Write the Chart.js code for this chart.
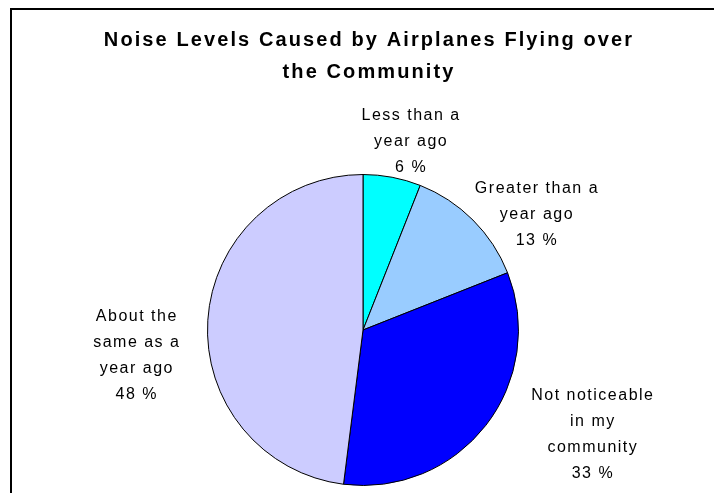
<!DOCTYPE html>
<html>
<head>
<meta charset="utf-8">
<script src="https://cdn.jsdelivr.net/npm/chart.js@4/dist/chart.umd.min.js"></script>
<style>
  html, body { margin: 0; padding: 0; background: #fff; }
  #wrap { position: relative; width: 714px; height: 493px; }
</style>
</head>
<body>
<div id="wrap"><canvas id="c" width="714" height="493"></canvas></div>
<script>
const titleLines = ['Noise Levels Caused by Airplanes Flying over', 'the Community'];
const categories = [
  ['Less than a', 'year ago'],
  ['Greater than a', 'year ago'],
  ['Not noticeable', 'in my', 'community'],
  ['About the', 'same as a', 'year ago']
];
const shares = [6, 13, 33, 48];
const sliceColors = ['#00FFFF', '#99CCFF', '#0000FF', '#CCCCFF'];
// shift of each label block away from the outer midpoint of its slice
const labelNudges = [[19, -36], [64, -5], [107, 9], [-71, 35]];

const framePlugin = {
  id: 'frame',
  beforeDraw(chart) {
    const ctx = chart.ctx;
    ctx.save();
    ctx.fillStyle = '#ffffff';
    ctx.fillRect(0, 0, chart.width, chart.height);
    ctx.strokeStyle = '#000000';
    ctx.lineWidth = 2;
    ctx.beginPath();
    ctx.moveTo(11, chart.height + 2);
    ctx.lineTo(11, 9);
    ctx.lineTo(chart.width + 2, 9);
    ctx.stroke();
    ctx.restore();
  }
};

const headingPlugin = {
  id: 'heading',
  afterDraw(chart) {
    const ctx = chart.ctx;
    ctx.save();
    ctx.fillStyle = '#000000';
    ctx.font = 'bold 20px "Liberation Sans", Arial, sans-serif';
    ctx.letterSpacing = '2.1px';
    ctx.textAlign = 'center';
    ctx.textBaseline = 'middle';
    titleLines.forEach((t, i) => ctx.fillText(t, 369, 40 + i * 32));
    ctx.restore();
  }
};

const sliceLabelPlugin = {
  id: 'sliceLabels',
  afterDatasetsDraw(chart) {
    const ctx = chart.ctx;
    const meta = chart.getDatasetMeta(0);
    ctx.save();
    ctx.fillStyle = '#000000';
    ctx.font = '16px "Liberation Sans", Arial, sans-serif';
    ctx.letterSpacing = '1.5px';
    ctx.textAlign = 'center';
    ctx.textBaseline = 'middle';
    const lineH = 26;
    meta.data.forEach((arc, i) => {
      const p = arc.getProps(['x', 'y', 'startAngle', 'endAngle', 'outerRadius'], true);
      const mid = (p.startAngle + p.endAngle) / 2;
      const ox = p.x + Math.cos(mid) * p.outerRadius;
      const oy = p.y + Math.sin(mid) * p.outerRadius;
      const cx = ox + labelNudges[i][0];
      const cy = oy + labelNudges[i][1];
      const lines = categories[i].concat([shares[i] + ' %']);
      const y0 = cy - (lines.length - 1) * lineH / 2;
      lines.forEach((l, k) => ctx.fillText(l, cx, y0 + k * lineH));
    });
    ctx.restore();
  }
};

new Chart(document.getElementById('c'), {
  type: 'pie',
  data: {
    labels: categories.map(c => c.join(' ')),
    datasets: [{
      data: shares,
      backgroundColor: sliceColors,
      borderColor: '#000000',
      borderWidth: 1
    }]
  },
  options: {
    responsive: false,
    animation: false,
    layout: { padding: { left: 207, right: 195, top: 174, bottom: 7 } },
    plugins: {
      legend: { display: false },
      tooltip: { enabled: false },
      title: { display: false }
    }
  },
  plugins: [framePlugin, sliceLabelPlugin, headingPlugin]
});
</script>
</body>
</html>
